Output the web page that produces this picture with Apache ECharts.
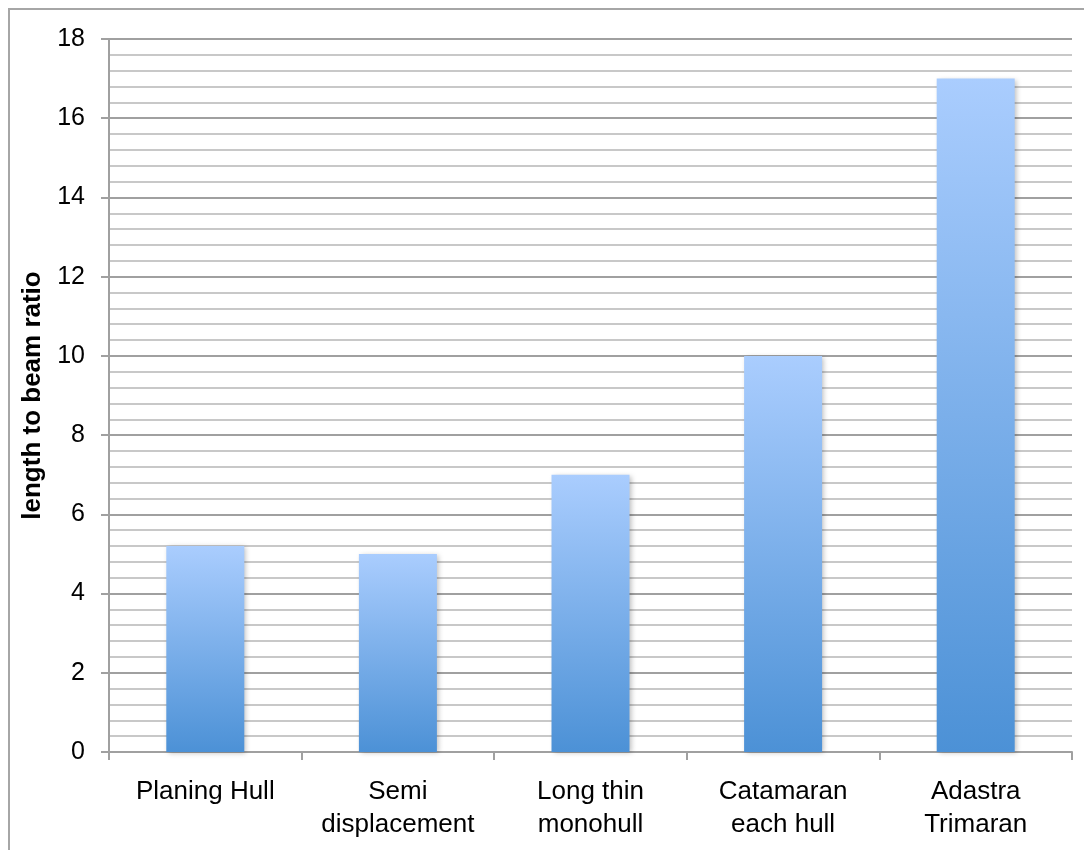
<!DOCTYPE html>
<html><head><meta charset="utf-8">
<script src="https://cdn.jsdelivr.net/npm/echarts@6/dist/echarts.min.js"></script>
<style>html,body{margin:0;padding:0;background:#fff}#c{width:1084px;height:850px}</style>
</head><body><div id="c"></div>
<script>
const categories = ["Planing Hull", "Semi\ndisplacement", "Long thin\nmonohull", "Catamaran\neach hull", "Adastra\nTrimaran"];
const ratios = [5.2, 5.0, 7.0, 10.0, 17.0];
const yTicks = { min: 0, max: 18, interval: 2 };
const yAxisTitle = "length to beam ratio";

const chart = echarts.init(document.getElementById('c'), null, { renderer: 'canvas' });
const font = '"Liberation Sans", Arial, sans-serif';
chart.setOption({
  animation: false,
  backgroundColor: '#fff',
  graphic: [{
    type: 'rect', silent: true, z: -1,
    shape: { x: 9, y: 9, width: 1200, height: 1000 },
    style: { fill: 'none', stroke: '#a6a6a6', lineWidth: 2 }
  }],
  grid: { left: 109, top: 39, right: 12, bottom: 98, containLabel: false },
  xAxis: {
    type: 'category', data: categories,
    axisLine: { lineStyle: { color: '#a0a0a0', width: 2 } },
    axisTick: { show: true, interval: 0, length: 8, lineStyle: { color: '#a0a0a0', width: 2 } },
    axisLabel: { interval: 0, hideOverlap: false, color: '#000', fontFamily: font, fontSize: 26, lineHeight: 33, margin: 23 },
    splitLine: { show: false }
  },
  yAxis: {
    type: 'value', min: yTicks.min, max: yTicks.max, interval: yTicks.interval,
    name: yAxisTitle, nameLocation: 'middle', nameGap: 57, nameRotate: 90,
    nameTextStyle: { color: '#000', fontFamily: font, fontSize: 26, fontWeight: 'bold' },
    axisLine: { show: true, lineStyle: { color: '#a0a0a0', width: 2 } },
    axisTick: { show: true, length: 8, lineStyle: { color: '#a0a0a0', width: 2 } },
    axisLabel: { color: '#000', fontFamily: font, fontSize: 25, margin: 24 },
    splitLine: { show: true, lineStyle: { color: '#a0a0a0', width: 2 } },
    minorTick: { show: false, splitNumber: 5 },
    minorSplitLine: { show: true, lineStyle: { color: '#c8c8c8', width: 2 } }
  },
  series: [{
    type: 'bar', data: ratios, barWidth: 78,
    itemStyle: {
      color: new echarts.graphic.LinearGradient(0, 0, 0, 1, [
        { offset: 0, color: '#aacdfe' },
        { offset: 1, color: '#4c91d6' }
      ]),
      shadowColor: 'rgba(0,0,0,0.25)', shadowBlur: 5, shadowOffsetX: 2, shadowOffsetY: 1
    }
  }]
});
</script></body></html>
